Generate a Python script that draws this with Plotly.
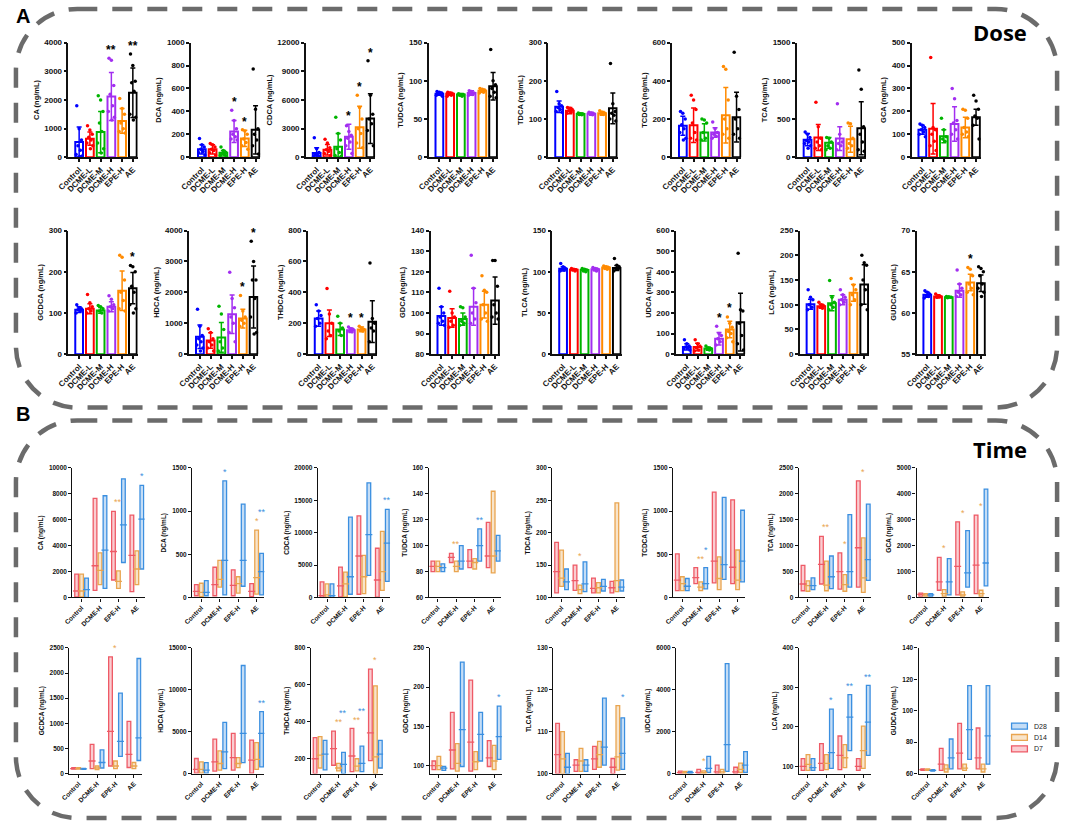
import plotly.graph_objects as go

W, H = 1065, 829
FONT = "Liberation Sans, Arial"

# ---------------- panel A : dose ----------------
dose_groups = ["Control", "DCME-L", "DCME-M", "DCME-H", "EPE-H", "AE"]
dose_colors = ["#0000FF", "#FF0000", "#00B400", "#A22EF0", "#FF8A00", "#000000"]
dose_acids = ["CA", "DCA", "CDCA", "TUDCA", "TDCA", "TCDCA", "TCA", "GCA",
              "GCDCA", "HDCA", "THDCA", "GDCA", "TLCA", "UDCA", "LCA", "GUDCA"]

dose_mean = {
    "CA": [530, 650, 880, 2120, 1270, 2250],
    "DCA": [70, 70, 40, 225, 165, 240],
    "CDCA": [450, 800, 1100, 2150, 3150, 4050],
    "TUDCA": [83, 83, 82, 84, 87, 93],
    "TDCA": [132, 122, 113, 114, 115, 128],
    "TCDCA": [165, 168, 130, 130, 220, 210],
    "TCA": [230, 260, 190, 245, 235, 380],
    "GCA": [120, 125, 92, 145, 130, 175],
    "GCDCA": [108, 110, 106, 115, 154, 160],
    "HDCA": [560, 440, 540, 1290, 1150, 1850],
    "THDCA": [230, 200, 160, 155, 160, 210],
    "GDCA": [98.5, 97.5, 97, 103, 104, 106],
    "TLCA": [103.5, 102.5, 102, 103, 105, 104.5],
    "UDCA": [35, 35, 27, 75, 120, 155],
    "LCA": [101, 97, 103, 110, 124, 141],
    "GUDCA": [62.2, 62.0, 61.9, 62.7, 63.7, 63.6],
}
dose_sd = {
    "CA": [530, 230, 720, 840, 430, 860],
    "DCA": [40, 40, 20, 95, 70, 210],
    "CDCA": [550, 550, 1400, 1300, 2200, 2600],
    "TUDCA": [2, 2, 1.5, 3, 2, 18],
    "TDCA": [15, 8, 3, 4, 5, 40],
    "TCDCA": [50, 90, 45, 25, 145, 130],
    "TCA": [80, 170, 70, 155, 170, 345],
    "GCA": [20, 110, 28, 75, 45, 35],
    "GCDCA": [7, 12, 7, 12, 48, 38],
    "HDCA": [380, 250, 480, 620, 300, 1000],
    "THDCA": [50, 85, 40, 15, 15, 135],
    "GDCA": [4.5, 4.5, 3, 9, 6.5, 11.5],
    "TLCA": [2.5, 1, 1, 1.5, 1.5, 3],
    "UDCA": [15, 18, 8, 30, 40, 140],
    "LCA": [10, 4, 15, 10, 17, 40],
    "GUDCA": [0.3, 0.2, 0.1, 0.8, 1.0, 1.0],
}
dose_points = {
    "CA": [[1800, 1000, 600, 400, 250, 100, 50, 30],
           [1100, 950, 800, 700, 600, 500, 400, 300],
           [2150, 2000, 1600, 1200, 900, 500, 300, 150],
           [3450, 3380, 2500, 2200, 1800, 1600, 1400, 1300],
           [2050, 1700, 1500, 1200, 1000, 900, 850],
           [3600, 3200, 2650, 2600, 2300, 1500, 1400, 1300]],
    "DCA": [[165, 110, 90, 70, 50, 40, 20],
            [120, 110, 90, 70, 60, 40, 20],
            [90, 60, 45, 35, 25, 15, 10],
            [410, 320, 250, 200, 180, 160, 150],
            [240, 230, 200, 160, 130, 100, 70],
            [770, 420, 250, 200, 150, 100, 30]],
    "CDCA": [[2050, 900, 500, 300, 200, 100, 50],
             [1900, 1500, 1000, 800, 600, 400, 200],
             [4200, 2500, 1800, 900, 500, 200, 100],
             [3300, 2700, 2300, 2000, 1600, 1200, 400],
             [6500, 5200, 4000, 3000, 2500, 1500, 1000],
             [10100, 6500, 4500, 4000, 3500, 2800, 1200]],
    "TUDCA": [[86, 85, 84, 83, 82, 81, 80],
              [85, 84, 83, 82, 81, 80],
              [83, 82, 82, 81, 80],
              [87, 86, 84, 83, 82, 81],
              [90, 89, 88, 86, 85, 84],
              [141, 100, 95, 90, 85, 80, 78]],
    "TDCA": [[172, 140, 135, 130, 125, 120, 118],
             [130, 128, 125, 122, 118, 115],
             [116, 114, 113, 112, 111],
             [118, 116, 114, 113, 111],
             [122, 118, 116, 114, 112],
             [245, 140, 120, 115, 110, 100, 95]],
    "TCDCA": [[240, 230, 200, 170, 150, 130, 100, 90],
              [325, 300, 250, 180, 130, 100, 90],
              [200, 195, 180, 130, 100, 90],
              [185, 150, 130, 120, 110, 100],
              [475, 460, 300, 200, 150, 120, 100],
              [550, 320, 250, 200, 150, 120, 100]],
    "TCA": [[330, 300, 260, 220, 200, 180, 150, 120],
            [720, 400, 250, 200, 150, 120, 100],
            [260, 250, 200, 150, 120, 100],
            [700, 300, 200, 180, 150, 100],
            [450, 440, 250, 180, 150, 120],
            [1140, 890, 400, 300, 200, 100, 80]],
    "GCA": [[145, 140, 130, 120, 110, 100, 90],
            [435, 130, 120, 100, 70, 50, 30],
            [170, 120, 90, 80, 70],
            [300, 255, 160, 150, 120, 100, 80],
            [210, 205, 170, 130, 110, 100, 90],
            [270, 245, 210, 180, 170, 140, 80]],
    "GCDCA": [[120, 113, 110, 108, 105, 100],
              [145, 125, 115, 110, 105, 100],
              [118, 115, 110, 105, 100],
              [142, 133, 120, 115, 110, 105],
              [240, 235, 180, 150, 130, 110, 105],
              [215, 212, 200, 165, 150, 120, 110, 100]],
    "HDCA": [[1450, 900, 600, 500, 400, 300, 200, 100],
             [820, 700, 500, 400, 300, 200, 100],
             [1550, 1300, 800, 400, 200, 100],
             [2650, 1800, 1500, 1200, 1000, 700, 400],
             [1900, 1400, 1200, 1100, 1000, 900],
             [3650, 3000, 2400, 2400, 1800, 1200, 700, 650]],
    "THDCA": [[320, 280, 250, 230, 200, 180],
              [425, 260, 200, 150, 120, 100],
              [245, 200, 170, 150, 120],
              [175, 165, 160, 150, 145],
              [180, 170, 160, 155, 150],
              [590, 230, 200, 170, 150, 80]],
    "GDCA": [[112, 103, 100, 98, 96, 95, 94],
             [110.5, 100, 98, 96, 94, 93],
             [103, 102.5, 98, 96, 95, 94],
             [128, 112, 105, 100, 97, 95],
             [118, 111, 110, 104, 100, 97, 96],
             [125.5, 125.5, 113, 104, 100, 98, 97]],
    "TLCA": [[110, 106, 104, 103, 102, 101],
             [104, 103, 102.5, 102, 101],
             [104, 103, 102, 101, 100],
             [105, 104, 103, 102, 101],
             [107, 106, 105, 104, 103],
             [116, 108, 106, 104, 103, 101]],
    "UDCA": [[70, 50, 40, 35, 30, 25, 20],
             [70, 50, 40, 30, 20, 15],
             [40, 30, 28, 25, 20],
             [135, 100, 90, 75, 60, 45],
             [180, 150, 130, 110, 100, 80, 60],
             [490, 215, 210, 150, 90, 50, 20]],
    "LCA": [[130, 115, 110, 100, 95, 90],
            [105, 100, 98, 95, 93],
            [149, 115, 105, 100, 95, 90],
            [130, 120, 115, 110, 105, 100],
            [153, 140, 130, 120, 110, 100],
            [200, 185, 180, 150, 130, 100, 90]],
    "GUDCA": [[62.7, 62.5, 62.3, 62.1, 62.0, 61.8],
              [62.3, 62.1, 62.0, 61.9],
              [62.0, 61.95, 61.9, 61.85],
              [65.2, 63.5, 63.0, 62.5, 62.2, 62.0],
              [65.5, 65.3, 64.5, 63.5, 63.0, 62.5, 62.2],
              [65.6, 65.4, 65.0, 64.5, 63.5, 63.0, 62.5, 62.0]],
}
dose_sig = {"CA": {3: "**", 5: "**"}, "DCA": {3: "*", 4: "*"},
            "CDCA": {3: "*", 4: "*", 5: "*"}, "GCDCA": {5: "*"},
            "HDCA": {4: "*", 5: "*"}, "THDCA": {3: "*", 4: "*"},
            "UDCA": {3: "*", 4: "*"}, "GUDCA": {4: "*"}}
dose_yaxis = {"CA": (0, 4000, 1000), "DCA": (0, 1000, 200), "CDCA": (0, 12000, 3000),
              "TUDCA": (0, 150, 50), "TDCA": (0, 300, 100), "TCDCA": (0, 600, 200),
              "TCA": (0, 1500, 500), "GCA": (0, 500, 100), "GCDCA": (0, 300, 100),
              "HDCA": (0, 4000, 1000), "THDCA": (0, 800, 200), "GDCA": (80, 140, 10),
              "TLCA": (0, 150, 50), "UDCA": (0, 600, 100), "LCA": (0, 250, 50),
              "GUDCA": (55, 70, 5)}

# ---------------- panel B : time ----------------
time_groups = ["Control", "DCME-H", "EPE-H", "AE"]
days = ["D7", "D14", "D28"]
day_colors = ["#EE5A66", "#E9A550", "#3B8FE0"]
day_fills = ["rgba(238,90,102,0.30)", "rgba(233,165,80,0.30)", "rgba(59,143,224,0.30)"]
time_acids = dose_acids

# per group: [D7, D14, D28]
time_lo = {
    "CA": [[50, 50, 0], [550, 1000, 700], [1350, 700, 2700], [450, 1000, 2200]],
    "DCA": [[20, 10, 20], [20, 120, 30], [20, 50, 130], [10, 40, 30]],
    "CDCA": [[50, 50, 50], [100, 100, 500], [500, 600, 3400], [50, 1100, 2500]],
    "TUDCA": [[80, 80, 80], [87, 80, 82], [83, 82, 88], [83, 79, 88]],
    "TDCA": [[107, 117, 112], [111, 106, 109], [107, 107, 110], [107, 109, 110]],
    "TCDCA": [[80, 80, 80], [160, 80, 100], [170, 90, 210], [160, 90, 180]],
    "TCA": [[130, 120, 150], [260, 130, 170], [160, 120, 200], [200, 100, 330]],
    "GCA": [[50, 50, 50], [280, 50, 100], [100, 50, 400], [150, 50, 450]],
    "GCDCA": [[90, 90, 85], [100, 80, 110], [150, 100, 340], [120, 100, 260]],
    "HDCA": [[50, 50, 50], [300, 400, 600], [400, 700, 1300], [50, 500, 800]],
    "THDCA": [[120, 150, 140], [165, 135, 120], [130, 135, 130], [190, 120, 150]],
    "GDCA": [[95, 95, 94], [96, 93, 99], [93, 95, 106], [99, 95, 108]],
    "TLCA": [[100, 100, 100], [100.5, 100.5, 100.5], [101, 101.5, 102], [100, 100.8, 101]],
    "UDCA": [[10, 10, 10], [10, 10, 50], [10, 10, 100], [10, 50, 50]],
    "LCA": [[90, 90, 90], [90, 92, 95], [92, 97, 140], [90, 95, 128]],
    "GUDCA": [[62, 62, 61.5], [62, 61, 63], [63, 62, 69], [63, 61, 66]],
}
time_mid = {
    "CA": [[500, 500, 600], [2450, 2100, 3650], [3550, 1250, 5600], [3250, 2200, 6050]],
    "DCA": [[70, 60, 60], [150, 210, 430], [140, 160, 430], [70, 230, 300]],
    "CDCA": [[300, 400, 300], [1800, 2100, 3200], [6400, 3200, 9700], [2700, 4000, 8400]],
    "TUDCA": [[84, 84, 83], [91, 84, 88], [88, 87, 100], [92, 92, 96]],
    "TDCA": [[140, 130, 124], [126, 112, 121], [114, 115, 117], [115, 126, 116]],
    "TCDCA": [[200, 160, 130], [230, 120, 160], [420, 220, 380], [350, 200, 420]],
    "TCA": [[260, 230, 230], [640, 240, 400], [500, 250, 500], [960, 380, 730]],
    "GCA": [[120, 100, 100], [600, 150, 600], [1200, 100, 950], [1250, 150, 1330]],
    "GCDCA": [[100, 100, 95], [250, 110, 220], [840, 150, 640], [380, 150, 710]],
    "HDCA": [[500, 500, 400], [1400, 1200, 2600], [1900, 1200, 4800], [1600, 1700, 4800]],
    "THDCA": [[200, 220, 225], [255, 150, 170], [215, 160, 175], [340, 210, 225]],
    "GDCA": [[100, 100, 97], [120, 103, 146], [130, 105, 140], [110, 106, 137]],
    "TLCA": [[104.5, 103.5, 101.5], [102, 103, 102], [103.5, 104.5, 106.3], [101.5, 104, 104.8]],
    "UDCA": [[40, 40, 40], [60, 50, 250], [80, 80, 1380], [80, 200, 400]],
    "LCA": [[100, 105, 97], [108, 108, 135], [128, 122, 225], [100, 140, 212]],
    "GUDCA": [[62.5, 62.5, 62], [66, 63, 70], [73, 63.5, 88], [70, 63, 84]],
}
time_hi = {
    "CA": [[1800, 1800, 1500], [7650, 3450, 7850], [6650, 2050, 9150], [6350, 3600, 8650]],
    "DCA": [[150, 165, 195], [350, 430, 1350], [320, 240, 1080], [160, 780, 510]],
    "CDCA": [[2400, 2100, 2100], [4700, 3900, 12400], [12600, 6500, 17700], [7600, 10200, 13600]],
    "TUDCA": [[88, 88, 86], [94, 88, 100], [97, 90, 113], [118, 142, 108]],
    "TDCA": [[185, 173, 144], [150, 119, 155], [130, 123, 128], [125, 246, 127]],
    "TCDCA": [[505, 240, 220], [345, 180, 345], [1220, 470, 1160], [1130, 550, 1010]],
    "TCA": [[620, 320, 380], [1180, 700, 800], [860, 440, 1600], [2250, 1150, 1800]],
    "GCA": [[170, 150, 150], [1550, 300, 1500], [2920, 220, 2580], [3180, 280, 4180]],
    "GCDCA": [[115, 115, 105], [580, 150, 470], [2320, 250, 1600], [1040, 220, 2290]],
    "HDCA": [[1800, 1400, 1300], [4100, 2700, 6100], [4800, 1900, 12900], [4000, 3700, 7400]],
    "THDCA": [[315, 320, 300], [350, 175, 235], [365, 200, 268], [685, 595, 300]],
    "GDCA": [[106, 112, 99], [168, 128, 232], [209, 118, 168], [132, 126, 176]],
    "TLCA": [[112, 110, 104.8], [103.3, 106, 103.3], [106.5, 107.7, 118], [103.6, 116.2, 113.3]],
    "UDCA": [[120, 100, 100], [200, 130, 820], [400, 200, 5250], [300, 500, 1050]],
    "LCA": [[120, 130, 120], [158, 130, 245], [177, 155, 282], [120, 202, 305]],
    "GUDCA": [[63, 63, 62.5], [76, 65.5, 82], [92, 66, 116], [89, 66, 116]],
}
# (group, day, label)
time_sig = {
    "CA": [(2, 1, "**"), (3, 2, "*")],
    "DCA": [(1, 2, "*"), (3, 1, "*"), (3, 2, "**")],
    "CDCA": [(3, 2, "**")],
    "TUDCA": [(1, 1, "**"), (2, 2, "**")],
    "TDCA": [(1, 1, "*")],
    "TCDCA": [(1, 1, "**"), (1, 2, "*")],
    "TCA": [(1, 1, "**"), (2, 1, "*"), (3, 1, "*")],
    "GCA": [(1, 1, "*"), (2, 1, "*"), (3, 1, "*")],
    "GCDCA": [(2, 1, "*")],
    "HDCA": [(3, 2, "**")],
    "THDCA": [(1, 1, "**"), (1, 2, "**"), (2, 1, "**"), (2, 2, "**"), (3, 1, "*")],
    "GDCA": [(3, 2, "*")],
    "TLCA": [(3, 2, "*")],
    "UDCA": [(1, 1, "*")],
    "LCA": [(1, 2, "*"), (2, 2, "**"), (3, 2, "**")],
    "GUDCA": [],
}
time_yaxis = {"CA": (0, 10000, 2000), "DCA": (0, 1500, 500), "CDCA": (0, 20000, 5000),
              "TUDCA": (60, 160, 20), "TDCA": (100, 300, 50), "TCDCA": (0, 1500, 500),
              "TCA": (0, 2500, 500), "GCA": (0, 5000, 1000), "GCDCA": (0, 2500, 500),
              "HDCA": (0, 15000, 5000), "THDCA": (120, 800, 200), "GDCA": (90, 250, 50),
              "TLCA": (100, 130, 10), "UDCA": (0, 6000, 2000), "LCA": (82, 400, 100),
              "GUDCA": (60, 140, 20)}

# pixel layout of the subplot grid (left edge of each y axis, top/bottom of rows)
dose_left = [[58, 182, 298, 422, 543, 668, 794, 910],
             [58, 180, 300, 424, 547, 672, 797, 915]]
dose_rows = [(39, 155), (229, 354)]
time_left = [[62, 183, 310, 422, 547, 669, 796, 915],
             [59, 183, 303, 423, 548, 672, 796, 917]]
time_rows = [(469, 600), (651, 778)]

fig = go.Figure()
layout = {}
annotations = []
shapes = []


def axis_names(k):
    return ("x" if k == 1 else f"x{k}"), ("y" if k == 1 else f"y{k}")


def set_axes(k, left, width, top, bottom, xrange, yr, ticktext, title, fs, fs_title, lw):
    xa = "xaxis" if k == 1 else f"xaxis{k}"
    ya = "yaxis" if k == 1 else f"yaxis{k}"
    tf = dict(family=FONT, size=fs, color="#111", weight="bold")
    layout[xa] = dict(domain=[left / W, (left + width) / W], range=xrange,
                      anchor=axis_names(k)[1], tickvals=list(range(len(ticktext))),
                      ticktext=ticktext, tickangle=-45, tickfont=tf,
                      showline=True, linecolor="#111", linewidth=lw, ticks="outside",
                      ticklen=3, tickwidth=lw, tickcolor="#111", showgrid=False,
                      zeroline=False, fixedrange=True)
    layout[ya] = dict(domain=[1 - bottom / H, 1 - top / H], range=[yr[0], yr[1]],
                      anchor=axis_names(k)[0], dtick=yr[2], tick0=0, tickformat="d",
                      tickfont=tf, showline=True, linecolor="#111", linewidth=lw,
                      ticks="outside", ticklen=3, tickwidth=lw, tickcolor="#111",
                      showgrid=False, zeroline=False, fixedrange=True,
                      title=dict(text=title, standoff=4,
                                 font=dict(family=FONT, size=fs_title, color="#111",
                                           weight="bold")))


jitter = [-0.22, 0.0, 0.22, -0.11, 0.11, -0.28, 0.28, 0.05]

for idx, acid in enumerate(dose_acids):
    k = idx + 1
    r, c = divmod(idx, 8)
    top, bottom = dose_rows[r]
    yr = dose_yaxis[acid]
    set_axes(k, dose_left[r][c], 70, top, bottom, [-1.0, 5.45], yr,
             dose_groups, f"{acid} (ng/mL)", 8, 7.5, 1.5)
    xr, yrn = axis_names(k)
    span = yr[1] - yr[0]
    for g, col in enumerate(dose_colors):
        m, s = dose_mean[acid][g], dose_sd[acid][g]
        pts = dose_points[acid][g]
        fig.add_trace(go.Bar(x=[g], y=[m], width=0.72, xaxis=xr, yaxis=yrn,
                             marker=dict(color="white", line=dict(color=col, width=2)),
                             error_y=dict(type="data", array=[s], color=col,
                                          thickness=1.5, width=2.5),
                             showlegend=False, hoverinfo="skip"))
        fig.add_trace(go.Scatter(x=[g + jitter[j % len(jitter)] for j in range(len(pts))],
                                 y=pts, mode="markers", xaxis=xr, yaxis=yrn,
                                 marker=dict(color=col, size=3.5),
                                 showlegend=False, hoverinfo="skip"))
        if g in dose_sig.get(acid, {}):
            ytop = max(max(pts), m + s) + 0.07 * span
            annotations.append(dict(x=g, y=ytop, xref=xr, yref=yrn, text=dose_sig[acid][g],
                                    showarrow=False, yanchor="middle",
                                    font=dict(family=FONT, size=12, color="#000", weight="bold")))

day_off = [-0.27, 0.0, 0.27]
for idx, acid in enumerate(time_acids):
    k = 17 + idx
    r, c = divmod(idx, 8)
    top, bottom = time_rows[r]
    yr = time_yaxis[acid]
    set_axes(k, time_left[r][c], 73, top, bottom, [-0.5, 3.42], yr,
             time_groups, f"{acid} (ng/mL)", 6.5, 6.5, 1.2)
    xr, yrn = axis_names(k)
    span = yr[1] - yr[0]
    for s in range(3):
        xs = [g + day_off[s] for g in range(4)]
        lo = [time_lo[acid][g][s] for g in range(4)]
        hi = [time_hi[acid][g][s] for g in range(4)]
        mid = [time_mid[acid][g][s] for g in range(4)]
        fig.add_trace(go.Bar(x=xs, y=[h - l for h, l in zip(hi, lo)], base=lo, width=0.2,
                             xaxis=xr, yaxis=yrn, name=days[s],
                             marker=dict(color=day_fills[s],
                                         line=dict(color=day_colors[s], width=1.3)),
                             showlegend=False, hoverinfo="skip"))
        fig.add_trace(go.Scatter(x=xs, y=mid, mode="markers", xaxis=xr, yaxis=yrn,
                                 marker=dict(symbol="line-ew", size=5,
                                             line=dict(color=day_colors[s], width=1.3)),
                                 showlegend=False, hoverinfo="skip"))
    for g, s, lab in time_sig[acid]:
        below = sum(1 for gg, ss, _ in time_sig[acid] if gg == g and ss < s)
        ytop = max(time_hi[acid][g][:s + 1]) + (0.07 + 0.07 * below) * span
        annotations.append(dict(x=g + day_off[s], y=ytop, xref=xr, yref=yrn, text=lab,
                                showarrow=False, yanchor="middle",
                                font=dict(family=FONT, size=9, color=day_colors[s])))

# legend of panel B, drawn by hand (D28 on top)
for i, s in enumerate([2, 1, 0]):
    yc = 730 + i * 11.5
    shapes.append(dict(type="rect", xref="paper", yref="paper",
                       x0=1011 / W, x1=1027 / W, y0=1 - (yc + 3) / H, y1=1 - (yc - 3) / H,
                       fillcolor=day_fills[s], line=dict(color=day_colors[s], width=1.3)))
    annotations.append(dict(x=1032 / W, y=1 - yc / H, xref="paper", yref="paper",
                            text=days[s], showarrow=False, xanchor="left", yanchor="middle",
                            font=dict(family=FONT, size=7, color="#222")))


def rounded_box(x0, y0, x1, y1, r):
    kk = 0.5523 * r

    def p(x, y):
        return f"{x / W:.5f},{1 - y / H:.5f}"
    return (f"M{p(x0 + r, y0)} L{p(x1 - r, y0)} "
            f"C{p(x1 - r + kk, y0)} {p(x1, y0 + r - kk)} {p(x1, y0 + r)} "
            f"L{p(x1, y1 - r)} C{p(x1, y1 - r + kk)} {p(x1 - r + kk, y1)} {p(x1 - r, y1)} "
            f"L{p(x0 + r, y1)} C{p(x0 + r - kk, y1)} {p(x0, y1 - r + kk)} {p(x0, y1 - r)} "
            f"L{p(x0, y0 + r)} C{p(x0, y0 + r - kk)} {p(x0 + r - kk, y0)} {p(x0 + r, y0)} Z")


for box in [(5, 5, 1057, 408), (5, 421, 1057, 823)]:
    shapes.append(dict(type="path", xref="paper", yref="paper", path=rounded_box(*box, 62),
                       line=dict(color="#6b6b6b", width=4.5, dash="20px,15px"), layer="below"))

for txt, x, y in [("A", 3, 12), ("B", 3, 415)]:
    annotations.append(dict(x=x / W, y=1 - y / H, xref="paper", yref="paper", text=txt,
                            showarrow=False, xanchor="left", yanchor="middle",
                            font=dict(family=FONT, size=20, color="#000", weight="bold")))
for txt, y in [("Dose", 28), ("Time", 450)]:
    annotations.append(dict(x=1029 / W, y=1 - y / H, xref="paper", yref="paper", text=txt,
                            showarrow=False, xanchor="right", yanchor="middle",
                            font=dict(family="Open Sans", size=22, color="#000", weight="bold")))

fig.update_layout(width=W, height=H, margin=dict(l=0, r=0, t=0, b=0),
                  paper_bgcolor="white", plot_bgcolor="white", barmode="overlay",
                  showlegend=False, annotations=annotations, shapes=shapes,
                  font=dict(family=FONT), **layout)

# put the figure at the page origin (no default body margin, no scrollbars)
fig.write_html("out.html", config={"displayModeBar": False},
               post_script="document.body.style.margin='0';document.body.style.overflow='hidden';")
